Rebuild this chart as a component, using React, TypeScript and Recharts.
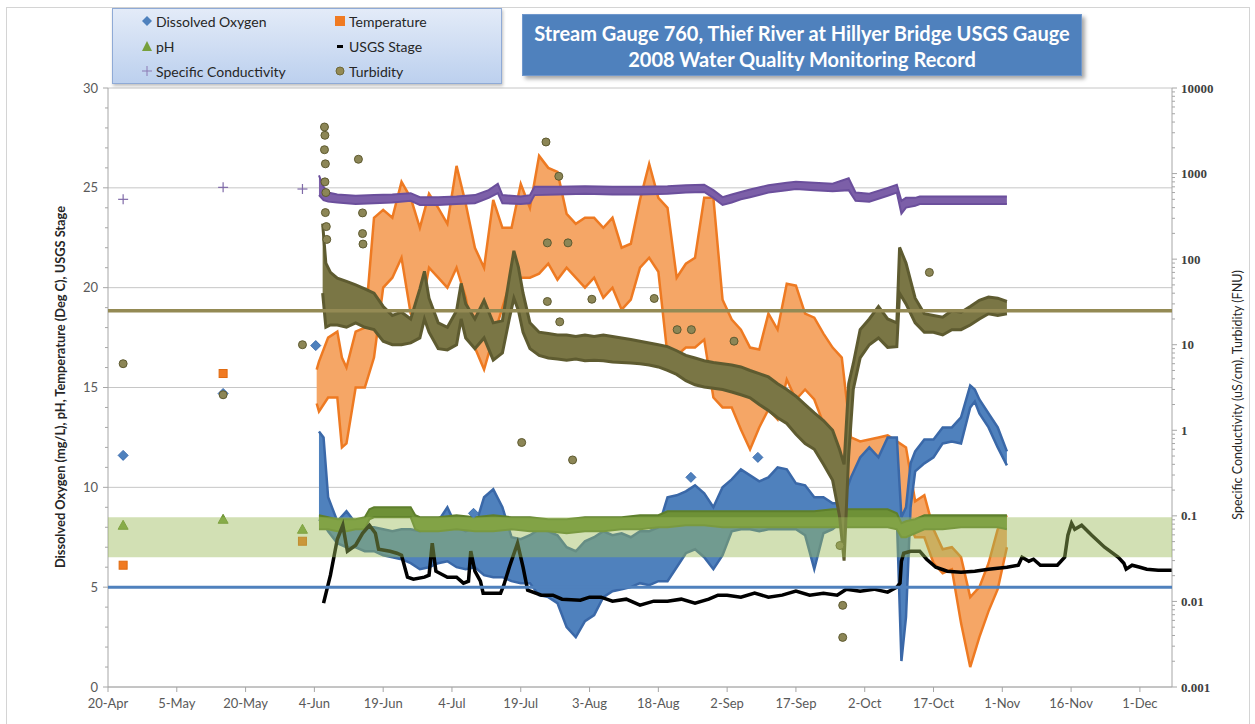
import React from 'react';
import {
  ComposedChart, Area, Line, Scatter, XAxis, YAxis, CartesianGrid, ReferenceArea, ReferenceLine,
} from 'recharts';

// ---- axis categories / tick labels ----
const xTickDays = [0, 15, 30, 45, 60, 75, 90, 105, 120, 135, 150, 165, 180, 195, 210, 225];
const xTickLabels = ['20-Apr', '5-May', '20-May', '4-Jun', '19-Jun', '4-Jul', '19-Jul', '3-Aug', '18-Aug', '2-Sep', '17-Sep', '2-Oct', '17-Oct', '1-Nov', '16-Nov', '1-Dec'];
const leftMajor = [0, 5, 10, 15, 20, 25, 30];
const rightDecades = [0.001, 0.01, 0.1, 1, 10, 100, 1000, 10000];
const rightLabels = ['0.001', '0.01', '0.1', '1', '10', '100', '1000', '10000'];

// ---- series (day since 20-Apr, low, high) ----
const dissolvedOxygen: [number, number, number][] = [
  [46, 8.4, 12.8], [47, 8.2, 12.5], [48, 7.8, 9.5], [50, 7.2, 8.3], [52, 7.0, 8.8], [54, 7.0, 8.2], [56, 6.8, 8.0], [58, 6.8, 8.0],
  [60, 6.6, 7.9], [62, 6.5, 7.8], [64, 6.4, 7.9], [66, 6.2, 7.9], [68, 5.9, 7.8], [70, 6.0, 8.0], [72, 6.2, 8.3], [74, 6.3, 9.0],
  [76, 6.0, 8.0], [78, 5.9, 7.8], [80, 6.0, 8.0], [82, 5.6, 9.5], [84, 5.5, 9.9], [86, 5.5, 9.0], [88, 5.3, 7.5], [90, 5.2, 7.4],
  [92, 5.2, 7.6], [94, 4.6, 7.9], [96, 4.5, 7.8], [98, 4.2, 7.6], [100, 3.0, 7.0], [102, 2.5, 6.8], [104, 3.3, 7.3], [106, 3.6, 7.5],
  [108, 4.5, 7.8], [110, 4.8, 7.6], [112, 4.9, 7.7], [114, 5.0, 7.5], [116, 5.2, 7.8], [118, 5.1, 7.8], [120, 5.3, 8.0], [122, 5.3, 9.5],
  [124, 6.0, 9.6], [126, 6.7, 9.8], [128, 6.9, 10.1], [130, 6.5, 9.7], [132, 5.9, 9.0], [134, 6.6, 10.0], [136, 7.8, 10.4], [138, 7.9, 10.9],
  [140, 7.9, 10.6], [142, 7.8, 10.3], [144, 7.9, 10.5], [146, 7.9, 11.0], [148, 7.9, 10.9], [150, 7.9, 10.2], [152, 7.6, 10.1], [154, 5.9, 9.5],
  [156, 7.7, 9.5], [158, 7.9, 9.2], [160, 8.3, 9.2], [162, 8.5, 10.5], [164, 8.6, 11.5], [166, 8.6, 12.0], [168, 8.6, 11.5], [170, 8.5, 12.5],
  [172, 8.5, 12.5], [173, 1.3, 8.5], [174, 3.5, 9.0], [175, 9.0, 11.2], [176, 10.8, 11.8], [178, 11.2, 12.4], [180, 11.5, 12.4], [182, 12.2, 13.0],
  [184, 12.3, 13.0], [186, 12.2, 13.5], [188, 14.0, 15.1], [189, 14.3, 14.9], [190, 13.7, 14.4], [192, 13.0, 13.7], [194, 12.0, 13.0], [196, 11.1, 11.8],
];

const temperature: [number, number, number][] = [
  [45.5, 14.2, 15.9], [46, 13.8, 16.3], [48, 14.5, 17.5], [50, 14.5, 17.8], [51, 12.0, 16.5], [52, 12.2, 16.0], [54, 15.0, 17.8], [56, 15.0, 18.0],
  [58, 16.5, 23.5], [60, 20.0, 23.9], [62, 20.5, 23.5], [64, 21.5, 25.3], [66, 18.7, 24.5], [68, 18.5, 23.0], [70, 21.0, 24.7], [72, 20.5, 24.0],
  [74, 20.0, 23.2], [76, 21.0, 26.1], [78, 19.5, 24.2], [80, 17.0, 22.0], [82, 15.9, 21.0], [84, 17.5, 24.4], [86, 19.0, 23.0], [88, 20.5, 23.0],
  [90, 20.5, 25.2], [92, 20.5, 24.0], [94, 20.7, 26.6], [96, 21.2, 26.0], [98, 20.4, 25.8], [100, 21.0, 23.7], [102, 20.5, 23.2], [104, 20.0, 23.5],
  [106, 20.5, 23.5], [108, 19.5, 23.0], [110, 20.0, 23.5], [112, 18.9, 22.0], [114, 19.4, 22.2], [116, 21.0, 24.4], [118, 21.5, 26.2], [120, 20.8, 24.5],
  [122, 16.6, 24.0], [124, 16.6, 20.5], [126, 17.0, 21.2], [128, 17.0, 21.5], [130, 17.4, 24.5], [132, 14.5, 24.5], [134, 14.0, 19.4], [136, 14.0, 18.4],
  [138, 12.9, 17.9], [140, 11.9, 17.0], [142, 13.0, 16.9], [144, 13.9, 18.7], [146, 13.4, 17.9], [148, 15.4, 20.2], [150, 14.4, 20.1], [152, 14.9, 18.7],
  [154, 14.4, 18.5], [156, 13.2, 17.7], [158, 12.0, 17.0], [160, 10.0, 16.5], [162, 9.0, 12.5], [164, 8.8, 12.3], [166, 9.0, 12.4], [168, 8.7, 12.5],
  [170, 8.8, 12.6], [172, 8.8, 12.3], [174, 8.5, 12.0], [176, 7.5, 9.3], [178, 7.5, 9.6], [180, 6.2, 7.9], [182, 5.7, 6.9], [184, 5.9, 7.0],
  [186, 3.2, 6.5], [188, 1.0, 4.5], [190, 2.5, 5.0], [192, 3.8, 6.2], [194, 4.9, 7.9], [196, 7.0, 8.6],
];

const phSeries: [number, number, number][] = [
  [46, 7.9, 8.6], [48, 7.9, 8.5], [50, 7.8, 8.4], [52, 7.8, 8.4], [54, 7.9, 8.4], [56, 7.9, 8.5], [57, 8.4, 8.9], [58, 8.5, 9.0],
  [62, 8.5, 9.0], [66, 8.5, 9.0], [67, 7.9, 8.6], [68, 7.8, 8.5], [72, 7.8, 8.5], [76, 7.9, 8.6], [80, 7.8, 8.5], [84, 7.8, 8.6],
  [88, 7.9, 8.5], [92, 7.8, 8.5], [96, 7.8, 8.4], [100, 7.7, 8.4], [104, 7.8, 8.5], [108, 7.8, 8.5], [112, 7.9, 8.5], [116, 7.9, 8.6],
  [120, 8.0, 8.6], [122, 8.0, 8.8], [126, 8.1, 8.8], [130, 8.1, 8.8], [134, 8.0, 8.8], [138, 8.0, 8.8], [142, 8.0, 8.8], [146, 8.0, 8.8],
  [150, 8.0, 8.8], [154, 8.0, 8.8], [158, 8.0, 8.9], [162, 8.0, 8.9], [166, 8.0, 8.9], [170, 8.0, 8.9], [172, 7.9, 8.7], [173, 7.5, 8.2],
  [174, 7.5, 8.3], [176, 7.7, 8.4], [178, 7.9, 8.6], [182, 7.9, 8.6], [186, 8.0, 8.6], [190, 8.0, 8.6], [194, 8.0, 8.6], [196, 7.9, 8.6],
];

const usgsStage: [number, number][] = [
  [47.0, 4.2], [48.5, 5.6], [50.0, 7.4], [51.2, 8.1], [52.2, 6.8], [54.0, 7.1], [55.5, 7.7], [57.0, 8.1], [58.3, 7.7], [59.0, 6.9],
  [61.5, 6.8], [63.0, 6.7], [64.0, 6.6], [65.3, 5.5], [66.6, 5.4], [69.0, 5.5], [70.0, 5.6], [70.7, 7.2], [71.5, 5.8], [74.0, 5.5],
  [76.0, 5.5], [77.5, 5.2], [78.6, 5.3], [79.1, 6.8], [80.0, 5.8], [81.2, 5.3], [81.8, 4.7], [85.6, 4.7], [86.3, 5.1], [87.5, 6.0],
  [89.3, 7.2], [90.5, 6.0], [91.5, 4.85], [94.5, 4.6], [97.0, 4.6], [99.0, 4.4], [103, 4.35], [105, 4.5], [107.5, 4.5], [110, 4.3],
  [113, 4.4], [116, 4.1], [119, 4.3], [122, 4.3], [125, 4.4], [128, 4.2], [131, 4.4], [133, 4.6], [135, 4.6], [138, 4.5],
  [141, 4.7], [144, 4.5], [147, 4.6], [150, 4.8], [153, 4.6], [156, 4.7], [159, 4.6], [161, 4.9], [164, 4.8], [167, 4.9],
  [170, 4.75], [172.0, 5.0], [172.7, 5.2], [173.0, 6.3], [173.5, 6.7], [175, 6.8], [177, 6.8], [178.5, 6.4], [180.5, 6.0], [183, 5.8],
  [186, 5.75], [189, 5.8], [192, 5.9], [196, 6.0], [198.5, 6.1], [199.3, 6.5], [200.8, 6.3], [201.8, 6.4], [203.3, 6.1], [207, 6.1],
  [208.6, 6.5], [209.3, 7.6], [210.1, 8.2], [210.8, 7.9], [212.3, 8.1], [214.5, 7.6], [217.3, 7.0], [220.3, 6.5], [221.5, 6.2], [222.0, 5.9],
  [223.3, 6.1], [225, 6.0], [226.5, 5.9], [229, 5.85], [232, 5.85],
];

const conductivity: [number, number, number][] = [
  [46, 560, 950], [47, 490, 700], [48, 470, 600], [50, 460, 570], [54, 440, 550], [58, 450, 560], [62, 460, 570], [66, 480, 590],
  [68, 430, 530], [72, 430, 530], [76, 440, 540], [80, 450, 560], [83, 520, 640], [85, 590, 760], [86, 450, 560], [90, 440, 540],
  [92, 450, 560], [93, 560, 700], [98, 570, 700], [104, 580, 710], [110, 570, 700], [116, 570, 700], [122, 580, 710], [126, 600, 730],
  [130, 610, 740], [132, 520, 640], [134, 430, 530], [136, 460, 570], [138, 500, 610], [140, 530, 650], [144, 600, 730], [148, 640, 780],
  [150, 660, 800], [154, 640, 780], [158, 620, 760], [161.5, 640, 880], [163, 480, 600], [166, 470, 580], [170, 550, 680], [172, 600, 740],
  [173, 340, 480], [174, 400, 520], [176, 420, 520], [177, 440, 540], [182, 440, 540], [188, 440, 540], [196, 440, 540],
];

const turbidity: [number, number, number][] = [
  [46.8, 40, 260], [47.5, 16, 90], [48.5, 17, 70], [50, 17, 60], [52, 16, 55], [54, 18, 50], [56, 16, 45], [58, 15, 40],
  [60, 11, 28], [62, 10, 22], [64, 10, 24], [66, 10.5, 20], [68, 12, 45], [69, 20, 72], [70, 14, 35], [72, 9, 18],
  [74, 8.7, 16], [76, 10, 25], [77, 20, 52], [78, 12, 30], [80, 9, 20], [82, 12, 33], [84, 6.6, 18], [86, 8, 19],
  [87.5, 20, 60], [88.5, 35, 125], [89.5, 25, 80], [90.5, 14, 40], [92, 9, 18], [94, 7.5, 14], [96, 7, 13.5], [98, 6.8, 13],
  [100, 6.6, 13], [102, 6.8, 12.5], [104, 6.5, 13], [106, 6.6, 12.5], [108, 6.5, 13], [110, 6.3, 12.5], [112, 6.2, 12], [114, 6.1, 11.5],
  [116, 6, 11], [118, 5.8, 10.5], [120, 5.5, 10], [122, 5, 9.5], [124, 4.5, 8.5], [126, 3.8, 7.5], [128, 3.4, 7], [130, 3.2, 6.5],
  [132, 3.1, 6.2], [134, 3, 6], [136, 2.8, 5.8], [138, 2.6, 5.5], [140, 2.4, 5], [142, 2, 4.6], [144, 1.7, 4.2], [146, 1.4, 3.5],
  [148, 1.2, 3], [150, 0.9, 2.5], [152, 0.7, 2], [154, 0.6, 1.6], [156, 0.4, 1.3], [158, 0.26, 1], [159.5, 0.1, 0.6], [160.5, 0.03, 0.4],
  [161.5, 0.5, 3.5], [162.5, 3, 6], [164, 7, 15], [166, 10, 20], [168, 12, 28], [170, 9.3, 20], [172, 9.5, 18], [172.6, 40, 137],
  [174, 30, 90], [176, 18, 35], [178, 14, 23], [180, 14, 22], [182, 13, 21], [184, 15, 25], [186, 15, 24], [188, 17, 28],
  [190, 20, 33], [192, 23, 36], [194, 22, 35], [196, 23, 32],
];

// ---- isolated readings (day, value) ----
const doPoints: [number, number][] = [[3.3, 11.6], [25.1, 14.7], [45.3, 17.1], [79.7, 8.7], [127.1, 10.5], [141.7, 11.5]];
const tempPoints: [number, number][] = [[3.3, 6.1], [25.1, 15.7], [42.4, 7.3]];
const phPoints: [number, number][] = [[3.3, 8.1], [25.1, 8.4], [42.4, 7.9]];
const scPoints: [number, number][] = [[3.3, 500], [25.1, 690], [42.4, 660]];
const turbPoints: [number, number][] = [
  [3.3, 6.0], [25.1, 2.6], [42.4, 10.0], [47.2, 3500], [47.3, 2800], [47.2, 1900], [47.4, 1300], [47.3, 800], [47.5, 600],
  [47.4, 350], [47.6, 240], [47.7, 170], [54.6, 1470], [55.5, 347], [55.5, 199], [55.6, 150], [95.5, 2340], [98.3, 930],
  [95.8, 155], [100.3, 155], [95.8, 32], [98.5, 18.5], [105.5, 34], [90.2, 0.72], [101.3, 0.45], [119.1, 34.7], [124.1, 15],
  [127.2, 15], [136.5, 11], [159.6, 0.045], [160.2, 0.009], [160.2, 0.0038], [179.1, 70],
];

const rng = (arr: [number, number, number][]) => arr.map(([d, lo, hi]) => ({ d, lo, hi }));
const pts = (arr: [number, number][]) => arr.map(([d, v]) => ({ d, v }));

const rightTicks: number[] = [];
rightDecades.forEach((dec, i) => {
  rightTicks.push(dec);
  if (i < rightDecades.length - 1) for (let k = 2; k <= 9; k++) rightTicks.push(dec * k);
});
const leftTicks: number[] = [];
for (let i = 0; i <= 30; i++) leftTicks.push(i);

const FONT = 'Lato, "Open Sans", sans-serif';

const LeftTick = (props: any) => {
  const { x, y, payload } = props;
  const v = payload.value;
  const major = leftMajor.indexOf(v) >= 0;
  const ax = x + 8;
  return (
    <g>
      <line x1={ax - (major ? 5 : 3)} x2={ax} y1={y} y2={y} stroke="#A6A6A6" />
      {major ? (
        <text x={ax - 10} y={y} dy={4.5} textAnchor="end" fill="#595959" fontSize={13} fontFamily={FONT}>{v}</text>
      ) : null}
    </g>
  );
};

const RightTick = (props: any) => {
  const { x, y, payload } = props;
  const v = payload.value;
  const idx = rightDecades.indexOf(v);
  const major = idx >= 0;
  const ax = x - 8;
  return (
    <g>
      <line x1={ax} x2={ax + (major ? 5 : 3)} y1={y} y2={y} stroke="#A6A6A6" />
      {major ? (
        <text x={ax + 9} y={y} dy={4.5} textAnchor="start" fill="#404040" fontSize={13} fontWeight="bold" fontFamily='"Liberation Serif", "DejaVu Serif", serif'>{rightLabels[idx]}</text>
      ) : null}
    </g>
  );
};

const DiamondShape = (p: any) => (
  <path d={`M${p.cx},${p.cy - 5}L${p.cx + 5},${p.cy}L${p.cx},${p.cy + 5}L${p.cx - 5},${p.cy}Z`} fill="#4F81BD" stroke="#3D6DB0" />
);
const SquareShape = (p: any) => (
  <rect x={p.cx - 4} y={p.cy - 4} width={8} height={8} fill="#F07A22" stroke="#E06A10" />
);
const TriangleShape = (p: any) => (
  <path d={`M${p.cx},${p.cy - 5}L${p.cx + 5},${p.cy + 4}L${p.cx - 5},${p.cy + 4}Z`} fill="#77A03C" stroke="#6A9030" />
);
const PlusShape = (p: any) => (
  <g stroke="#7F6AA8" strokeWidth={1.2}>
    <line x1={p.cx - 5} x2={p.cx + 5} y1={p.cy} y2={p.cy} />
    <line x1={p.cx} x2={p.cx} y1={p.cy - 5} y2={p.cy + 5} />
  </g>
);
const CircleShape = (p: any) => (
  <circle cx={p.cx} cy={p.cy} r={4} fill="#8C8656" stroke="#5E5A30" strokeWidth={1} />
);

const legendItems = [
  { label: 'Dissolved Oxygen', kind: 'diamond' },
  { label: 'Temperature', kind: 'square' },
  { label: 'pH', kind: 'triangle' },
  { label: 'USGS Stage', kind: 'dash' },
  { label: 'Specific Conductivity', kind: 'plus' },
  { label: 'Turbidity', kind: 'circle' },
];

const LegendMarker = ({ kind }: { kind: string }) => {
  const c = 6;
  return (
    <svg width={12} height={12} style={{ display: 'block' }}>
      {kind === 'diamond' && <path d={`M${c},1L11,${c}L${c},11L1,${c}Z`} fill="#4F81BD" />}
      {kind === 'square' && <rect x={1} y={1} width={10} height={10} fill="#F07A22" />}
      {kind === 'triangle' && <path d={`M${c},1L11,11L1,11Z`} fill="#77A03C" />}
      {kind === 'dash' && <rect x={3} y={5} width={6} height={3} fill="#000" />}
      {kind === 'plus' && (
        <g stroke="#8B7BB4" strokeWidth={1}>
          <line x1={1} x2={11} y1={c} y2={c} />
          <line x1={c} x2={c} y1={1} y2={11} />
        </g>
      )}
      {kind === 'circle' && <circle cx={c} cy={c} r={4} fill="#948A54" stroke="#6E6838" />}
    </svg>
  );
};

export default function App() {
  return (
    <div style={{ position: 'absolute', left: 0, top: 0, width: 1255, height: 724, overflow: 'hidden', background: '#fff', fontFamily: FONT }}>
      <div style={{ position: 'absolute', left: 6, top: 7, width: 1242, height: 760, border: '1px solid #D4D4D4' }} />
      <div style={{ position: 'absolute', left: 0, top: 0 }}>
        <ComposedChart width={1255} height={724} margin={{ top: 88, right: 8, bottom: 7, left: 8 }}>
          <CartesianGrid yAxisId="left" vertical={false} horizontalValues={leftMajor} stroke="#C6C6C6" />
          <XAxis
            type="number"
            dataKey="d"
            domain={[0, 232]}
            ticks={xTickDays}
            interval={0}
            allowDataOverflow
            height={30}
            tickSize={5}
            tickMargin={7}
            stroke="#A6A6A6"
            tick={{ fill: '#595959', fontSize: 13, fontFamily: FONT }}
            tickFormatter={(v: number) => xTickLabels[xTickDays.indexOf(v)] ?? ''}
          />
          <YAxis
            yAxisId="left"
            domain={[0, 30]}
            ticks={leftTicks}
            interval={0}
            width={100}
            allowDataOverflow
            tickLine={false}
            tickSize={6}
            tickMargin={2}
            axisLine={{ stroke: '#A6A6A6' }}
            tick={(p: any) => <LeftTick {...p} />}
          />
          <YAxis
            yAxisId="right"
            orientation="right"
            scale="log"
            domain={[0.001, 10000]}
            ticks={rightTicks}
            interval={0}
            width={75}
            allowDataOverflow
            tickLine={false}
            tickSize={6}
            tickMargin={2}
            axisLine={{ stroke: '#A6A6A6' }}
            tick={(p: any) => <RightTick {...p} />}
          />

          <Area yAxisId="left" data={rng(temperature)} dataKey={(p: any) => [p.lo, p.hi]} type="linear"
            fill="#F5A666" fillOpacity={1} stroke="#EE7A22" strokeWidth={2.5} isAnimationActive={false} dot={false} activeDot={false} />
          <Area yAxisId="left" data={rng(dissolvedOxygen)} dataKey={(p: any) => [p.lo, p.hi]} type="linear"
            fill="#4F81BD" fillOpacity={1} stroke="#3A68A8" strokeWidth={2.5} isAnimationActive={false} dot={false} activeDot={false} />
          <Area yAxisId="left" data={rng(phSeries)} dataKey={(p: any) => [p.lo, p.hi]} type="linear"
            fill="#6E9137" fillOpacity={1} stroke="#5E7F2C" strokeWidth={2} isAnimationActive={false} dot={false} activeDot={false} />
          <Area yAxisId="right" data={rng(conductivity)} dataKey={(p: any) => [p.lo, p.hi]} type="linear"
            fill="#7C5FA8" fillOpacity={1} stroke="#6B4F9C" strokeWidth={2} isAnimationActive={false} dot={false} activeDot={false} />
          <Area yAxisId="right" data={rng(turbidity)} dataKey={(p: any) => [p.lo, p.hi]} type="linear"
            fill="#7A7645" fillOpacity={1} stroke="#5E5B30" strokeWidth={3} isAnimationActive={false} dot={false} activeDot={false} />
          <Line yAxisId="left" data={pts(usgsStage)} dataKey="v" type="linear" stroke="#000000" strokeWidth={3.5}
            dot={false} activeDot={false} isAnimationActive={false} />

          <Scatter yAxisId="left" data={pts(tempPoints)} dataKey="v" shape={(p: any) => <SquareShape {...p} />} isAnimationActive={false} />
          <Scatter yAxisId="left" data={pts(doPoints)} dataKey="v" shape={(p: any) => <DiamondShape {...p} />} isAnimationActive={false} />
          <Scatter yAxisId="left" data={pts(phPoints)} dataKey="v" shape={(p: any) => <TriangleShape {...p} />} isAnimationActive={false} />
          <Scatter yAxisId="right" data={pts(scPoints)} dataKey="v" shape={(p: any) => <PlusShape {...p} />} isAnimationActive={false} />
          <Scatter yAxisId="right" data={pts(turbPoints)} dataKey="v" shape={(p: any) => <CircleShape {...p} />} isAnimationActive={false} />

          <ReferenceArea yAxisId="left" y1={6.5} y2={8.5} fill="#9BBB59" fillOpacity={0.45} stroke="none" zIndex={1500} />
          <ReferenceLine yAxisId="left" y={5} stroke="#4F81BD" strokeWidth={3} zIndex={1500} />
          <ReferenceLine yAxisId="right" y={25} stroke="#948A54" strokeWidth={3.5} zIndex={1500} />
        </ComposedChart>
      </div>

      {/* legend */}
      <div style={{
        position: 'absolute', left: 112, top: 8, width: 390, height: 76, boxSizing: 'border-box',
        border: '1px solid #8FAAD6', background: 'linear-gradient(to bottom, #E3EBF8, #BCD0EE)',
        boxShadow: '1px 2px 3px rgba(0,0,0,0.25)',
      }}>
        {legendItems.map((it, i) => {
          const col = i % 2;
          const row = Math.floor(i / 2);
          return (
            <div key={it.label} style={{
              position: 'absolute', left: col === 0 ? 28 : 221, top: 2 + row * 25, height: 20,
              display: 'flex', alignItems: 'center', gap: 3, fontSize: 14, color: '#262626', whiteSpace: 'nowrap',
            }}>
              <LegendMarker kind={it.kind} />
              <span>{it.label}</span>
            </div>
          );
        })}
      </div>

      {/* title */}
      <div style={{
        position: 'absolute', left: 522, top: 14, width: 560, height: 62, boxSizing: 'border-box',
        background: '#4F81BD', color: '#fff', fontWeight: 'bold', fontSize: 20, lineHeight: '26px',
        textAlign: 'center', paddingTop: 5, boxShadow: '3px 3px 4px rgba(0,0,0,0.35)', border: '1px solid #6F97CC',
        whiteSpace: 'nowrap',
      }}>
        <div>Stream Gauge 760, Thief River at Hillyer Bridge USGS Gauge</div>
        <div>2008 Water Quality Monitoring Record</div>
      </div>

      {/* axis titles */}
      <div style={{
        position: 'absolute', left: 60 - 230, top: 387 - 9, width: 460, height: 18, lineHeight: '18px',
        textAlign: 'center', transform: 'rotate(-90deg)', fontSize: 12.8, fontWeight: 'bold', color: '#262626', whiteSpace: 'nowrap',
      }}>Dissolved Oxygen (mg/L), pH, Temperature (Deg C), USGS Stage</div>
      <div style={{
        position: 'absolute', left: 1238 - 200, top: 395 - 9, width: 400, height: 18, lineHeight: '18px',
        textAlign: 'center', transform: 'rotate(-90deg)', fontSize: 12.5, color: '#262626', whiteSpace: 'nowrap',
      }}>Specific Conductivity (uS/cm), Turbidity (FNU)</div>
    </div>
  );
}
